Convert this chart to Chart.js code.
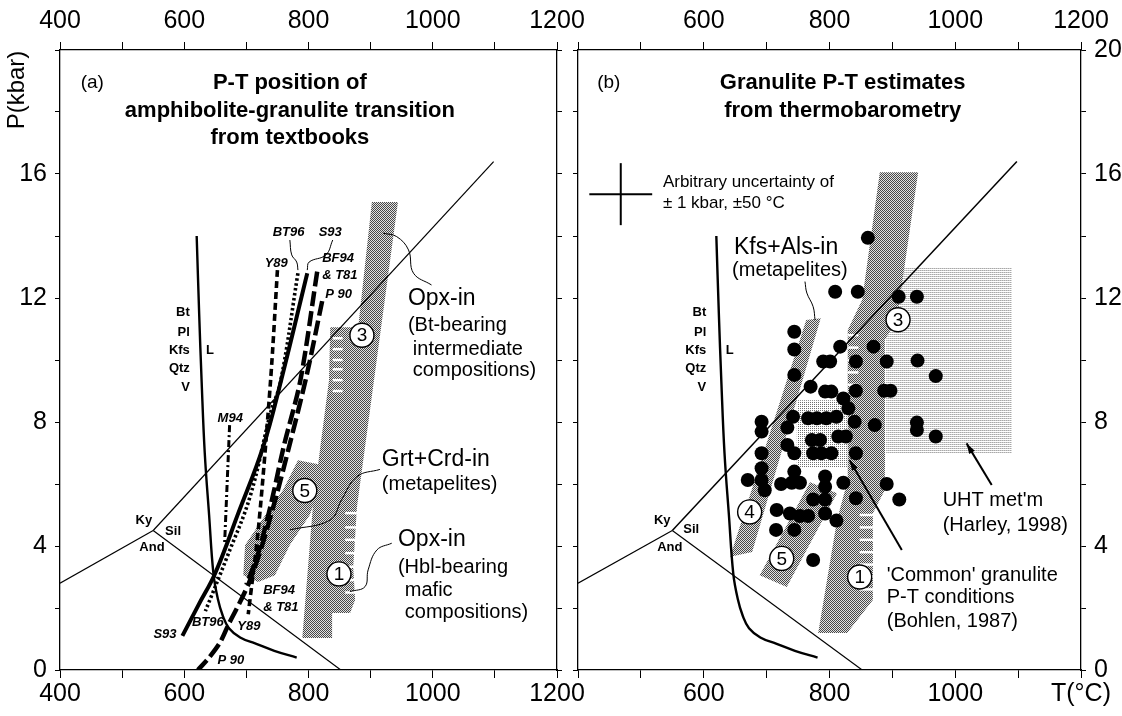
<!DOCTYPE html>
<html>
<head>
<meta charset="utf-8">
<script src="https://cdn.jsdelivr.net/npm/chart.js@4.4.1/dist/chart.umd.min.js"></script>
<style>
  html, body { margin: 0; padding: 0; background: #fff; }
  #wrap { position: relative; width: 1122px; height: 716px; }
  #wrap canvas { position: absolute; left: 0; top: 0; }
</style>
</head>
<body>
<div id="wrap">
  <canvas id="chart-a" width="1122" height="716"></canvas>
  <canvas id="chart-b" width="1122" height="716"></canvas>
</div>
<script>
/* ── Data (T in °C, P in kbar) ───────────────────────────── */

const xTicks = [400, 600, 800, 1000, 1200];
const yTicks = [0, 4, 8, 12, 16, 20];

// aluminosilicate triple point lines
const kyAndT = [400, 550];
const kyAndP = [2.8, 4.5];
const kySilT = [550, 1098];
const kySilP = [4.5, 16.4];
const andSilT = [550, 852];
const andSilP = [4.5, 0];

// granite solidus (Bt Pl Kfs Qtz V = L)
const solidusT = [620, 624, 628, 633, 640, 647, 654, 662, 672, 690, 715, 745, 781];
const solidusP = [14, 11.5, 9.3, 7, 5, 3.1, 2.3, 1.75, 1.35, 1.05, 0.85, 0.62, 0.4];

// textbook transition curves (panel a)
const y89T = [750, 739, 720, 703];
const y89P = [12.9, 9.35, 4.7, 1.8];
const bt96T = [783, 755, 739, 706, 669, 634];
const bt96P = [12.8, 9.3, 8.3, 5.6, 3.65, 1.9];
const s93T = [798, 756, 727, 687, 650, 623, 597];
const s93P = [12.8, 9.35, 7.2, 5.06, 3.13, 2.1, 1.1];
const bf94T = [814, 787, 760, 739, 718, 700];
const bf94P = [12.85, 9.35, 7.2, 5.3, 3.7, 2.75];
const p90T = [822, 797, 770, 748, 725, 706, 690, 672, 658, 640, 622];
const p90P = [11.9, 9.5, 7.3, 5.6, 4.0, 2.9, 2.2, 1.5, 0.9, 0.4, 0];
const m94T = [673, 669, 665];
const m94P = [7.9, 6.0, 4.1];

// shaded fields, panel a
const bandA13T = [902, 944, 899, 878, 872, 875, 867, 838, 838, 790, 807, 819, 833, 835, 880];
const bandA13P = [15.1, 15.1, 8.39, 5.26, 3.32, 2.26, 1.84, 1.84, 1.03, 1.03, 5.26, 7.19, 9.35, 11.06, 11.06];
const bandA5T = [783, 831, 802, 770, 746, 719, 695, 698, 725, 759];
const bandA5P = [6.77, 6.58, 5.0, 4.03, 3.06, 2.84, 3.06, 4.03, 4.84, 5.81];
const stripeAP = [10.7, 10.35, 10.0, 9.7, 9.35, 9.0, 5.06, 4.6, 4.2, 3.77, 3.33, 2.9, 2.5];
const stripeAT0 = [839, 839, 839, 839, 839, 839, 859, 859, 859, 859, 859, 859, 859];
const stripeAT1 = [855, 855, 855, 855, 855, 855, 878, 878, 878, 878, 878, 878, 878];

// shaded fields, panel b
const bandB13T = [880, 941, 907, 888, 888, 869, 869, 828, 782, 812, 829, 829, 852];
const bandB13P = [16.06, 16.06, 11.29, 10.65, 5.81, 5.06, 2.26, 1.19, 1.19, 4.84, 6.13, 10.97, 11.94];
const bandB4T = [642, 677, 786, 763];
const bandB4P = [3.65, 3.81, 11.35, 11.29];
const bandB5T = [689, 732, 812, 769];
const bandB5P = [3.06, 2.68, 5.7, 6.06];
const commonT = [748, 888, 888, 748];
const commonP = [6.55, 6.55, 8.7, 8.7];
const uhtT = [890, 1090, 1090, 890];
const uhtP = [7, 7, 13, 13];
const stripeBP = [10.8, 10.4, 10.0, 9.6, 9.2, 5.0, 4.6, 4.2, 3.8, 3.4, 3.0, 2.6];
const stripeBT0 = [829, 829, 829, 829, 829, 848, 848, 848, 848, 848, 848, 848];
const stripeBT1 = [846, 846, 846, 846, 846, 872, 872, 872, 872, 872, 872, 872];

// granulite thermobarometry estimates (panel b)
const dotsT = [
  809, 845, 910, 939, 861,
  744, 744, 817, 870,
  790, 801, 842, 891, 940,
  744, 969, 770, 793, 803, 842, 887, 897,
  822, 830,
  692, 742, 766, 780, 795, 811, 840, 872, 939, 939, 969,
  692, 733, 772, 785, 814, 826,
  733, 744, 774, 787, 803, 842, 692,
  692, 692, 670, 744, 793, 793, 822, 891,
  723, 740, 753,
  774, 793, 842, 911,
  716, 737, 753, 766, 793, 811,
  715, 744, 774, 697
];
const dotsP = [
  12.2, 12.2, 12.04, 12.04, 13.94,
  10.91, 10.34, 10.43, 10.43,
  9.95, 9.95, 9.95, 9.95, 9.98,
  9.52, 9.48, 9.14, 8.98, 8.98, 9.01, 9.01, 9.01,
  8.76, 8.44,
  8.01, 8.17, 8.12, 8.12, 8.12, 8.17, 8.01, 7.9, 7.98, 7.74, 7.53,
  7.69, 7.82, 7.42, 7.42, 7.53, 7.53,
  7.26, 6.99, 6.99, 6.99, 6.99, 6.99, 6.99,
  6.51, 6.13, 6.13, 6.4, 6.24, 5.91, 6.04, 6.0,
  6.0, 6.04, 6.04,
  5.5, 5.5, 5.54, 5.5,
  5.16, 5.05, 4.97, 4.97, 5.05, 4.82,
  4.52, 4.52, 3.55, 5.8
];

// circled field numbers
const circAT = [886, 794, 849];
const circAP = [10.8, 5.79, 3.1];
const circALabels = ['3', '5', '1'];
const circBT = [909, 673, 724, 848];
const circBP = [11.3, 5.1, 3.6, 3.0];
const circBLabels = ['3', '4', '5', '1'];

// leader lines and arrows
const leadBt96T = [770, 773, 781, 783];
const leadBt96P = [13.87, 13.39, 13.16, 12.9];
const leadS93T = [839, 828, 801, 798];
const leadS93P = [13.87, 13.39, 13.16, 12.9];
const leadOpxBtT = [920, 942, 961, 969, 998];
const leadOpxBtP = [14.09, 13.98, 13.55, 12.8, 12.42];
const leadGrtT = [915, 878, 853, 835, 770];
const leadGrtP = [6.47, 6.24, 5.48, 4.84, 4.52];
const leadOpxHblT = [934, 910, 896, 891, 867];
const leadOpxHblP = [4.09, 3.87, 3.23, 2.69, 2.53];
const leadKfsT = [761, 764, 774, 777];
const leadKfsP = [12.53, 12.16, 11.72, 11.29];
const arrowCommonT = [915, 832];
const arrowCommonP = [3.87, 6.77];
const arrowUhtT = [1058, 1018];
const arrowUhtP = [5.97, 7.31];

// error cross: ±50 °C, ±1 kbar
const crossT = 468;
const crossP = 15.35;

/* ── Helpers ─────────────────────────────────────────────── */

const FONT = "'Liberation Sans', Arial, Helvetica, sans-serif";

const pts = (T, P) => T.map((t, i) => ({ x: t, y: P[i] }));

function curve(T, P, style) {
  return Object.assign({
    data: pts(T, P),
    showLine: true,
    pointRadius: 0,
    borderColor: '#000',
    borderWidth: 1.2,
    tension: 0,
    fill: false,
    order: 5,
  }, style);
}

function circles(T, P) {
  return {
    data: pts(T, P),
    showLine: false,
    pointRadius: 12,
    pointBackgroundColor: '#fff',
    pointBorderColor: '#000',
    pointBorderWidth: 1.4,
    order: 0,
  };
}

function patterns(ctx) {
  const make = (w, h, paint) => {
    const c = document.createElement('canvas');
    c.width = w; c.height = h;
    paint(c.getContext('2d'));
    return ctx.createPattern(c, 'repeat');
  };
  return {
    band: make(2, 2, (g) => {
      g.fillStyle = '#e2e2e2'; g.fillRect(0, 0, 2, 2);
      g.fillStyle = '#484848'; g.fillRect(0, 0, 1, 1); g.fillRect(1, 1, 1, 1);
    }),
    light: make(2, 2, (g) => {
      g.fillStyle = '#fff'; g.fillRect(0, 0, 2, 2);
      g.fillStyle = '#707070'; g.fillRect(0, 0, 1, 1);
    }),
    lines: make(2, 2, (g) => {
      g.fillStyle = '#fff'; g.fillRect(0, 0, 2, 2);
      g.fillStyle = '#a8a8a8'; g.fillRect(0, 0, 1, 1);
      g.fillStyle = '#cfcfcf'; g.fillRect(1, 0, 1, 1);
    }),
  };
}

// overlay plugin: shaded fields below datasets, text / arrowheads above
function overlay(spec) {
  return {
    id: 'overlay-' + spec.name,
    beforeDatasetsDraw(chart) {
      const { ctx, chartArea: a, scales: { x, y } } = chart;
      const pat = patterns(ctx);
      ctx.save();
      ctx.beginPath();
      ctx.rect(a.left, a.top, a.right - a.left, a.bottom - a.top);
      ctx.clip();
      spec.fields.forEach((f) => {
        ctx.beginPath();
        f.T.forEach((t, i) => {
          const px = x.getPixelForValue(t), py = y.getPixelForValue(f.P[i]);
          if (i) ctx.lineTo(px, py); else ctx.moveTo(px, py);
        });
        ctx.closePath();
        ctx.fillStyle = pat[f.fill];
        ctx.fill();
      });
      ctx.strokeStyle = '#fff';
      ctx.lineWidth = 2.5;
      spec.stripes.P.forEach((p, i) => {
        const py = y.getPixelForValue(p);
        ctx.beginPath();
        ctx.moveTo(x.getPixelForValue(spec.stripes.T0[i]), py);
        ctx.lineTo(x.getPixelForValue(spec.stripes.T1[i]), py);
        ctx.stroke();
      });
      ctx.restore();
    },
    afterDatasetsDraw(chart) {
      const { ctx, scales: { x, y } } = chart;
      ctx.save();
      ctx.fillStyle = '#000';
      ctx.textBaseline = 'middle';
      spec.texts.forEach((t) => {
        ctx.font = t.font + ' ' + FONT;
        ctx.textAlign = t.align || 'left';
        ctx.fillText(t.s, x.getPixelForValue(t.T), y.getPixelForValue(t.P));
      });
      ctx.font = '19px ' + FONT;
      ctx.textAlign = 'center';
      spec.circ.labels.forEach((s, i) => {
        ctx.fillText(s, x.getPixelForValue(spec.circ.T[i]), y.getPixelForValue(spec.circ.P[i]) + 1);
      });
      spec.arrows.forEach((ar) => {
        const n = ar.T.length;
        const x1 = x.getPixelForValue(ar.T[n - 1]), y1 = y.getPixelForValue(ar.P[n - 1]);
        const x0 = x.getPixelForValue(ar.T[n - 2]), y0 = y.getPixelForValue(ar.P[n - 2]);
        const ang = Math.atan2(y1 - y0, x1 - x0);
        ctx.beginPath();
        ctx.moveTo(x1, y1);
        ctx.lineTo(x1 - 11 * Math.cos(ang - 0.3), y1 - 11 * Math.sin(ang - 0.3));
        ctx.lineTo(x1 - 11 * Math.cos(ang + 0.3), y1 - 11 * Math.sin(ang + 0.3));
        ctx.closePath();
        ctx.fill();
      });
      if (spec.yTitle) {
        ctx.font = '24px ' + FONT;
        ctx.textAlign = 'center';
        ctx.translate(17, 90);
        ctx.rotate(-Math.PI / 2);
        ctx.fillText(spec.yTitle, 0, 0);
      }
      ctx.restore();
    },
  };
}

function axis(position, fit, labelFn, extra) {
  const horizontal = position === 'top' || position === 'bottom';
  return Object.assign({
    type: 'linear',
    position,
    min: horizontal ? 400 : 0,
    max: horizontal ? 1200 : 20,
    afterFit: (s) => { if (horizontal) s.height = fit; else s.width = fit; },
    border: { color: '#000', width: 1.3 },
    grid: { drawOnChartArea: false, color: '#000', tickLength: horizontal ? 8 : 5 },
    ticks: {
      stepSize: horizontal ? 100 : 2,
      autoSkip: false,
      maxRotation: 0,
      color: '#000',
      font: { family: FONT, size: 25 },
      padding: horizontal ? (position === 'top' ? 6 : 1) : 8,
      callback: labelFn,
    },
  }, extra);
}

const xLabel = (skip400, last) => (v) => {
  if (!xTicks.includes(v)) return '';
  if (skip400 && v === 400) return '';
  if (v === 1200 && last) return last;
  return String(v);
};
const yLabel = (skip20) => (v) => (yTicks.includes(v) && !(skip20 && v === 20) ? String(v) : '');
const noLabel = () => '';

const baseOptions = (scales) => ({
  responsive: false,
  animation: false,
  events: [],
  layout: { padding: 0 },
  plugins: { legend: { display: false }, tooltip: { enabled: false } },
  scales,
});

/* ── Panel (a): textbook positions ───────────────────────── */

const specA = {
  name: 'a',
  fields: [
    { T: bandA13T, P: bandA13P, fill: 'band' },
    { T: bandA5T, P: bandA5P, fill: 'band' },
  ],
  stripes: { P: stripeAP, T0: stripeAT0, T1: stripeAT1 },
  circ: { T: circAT, P: circAP, labels: circALabels },
  arrows: [],
  yTitle: 'P(kbar)',
  texts: [
    { s: '(a)', T: 452, P: 18.95, font: '19px', align: 'center' },
    { s: 'P-T position of', T: 770, P: 18.95, font: 'bold 22px', align: 'center' },
    { s: 'amphibolite-granulite transition', T: 770, P: 18.05, font: 'bold 22px', align: 'center' },
    { s: 'from textbooks', T: 770, P: 17.15, font: 'bold 22px', align: 'center' },
    { s: 'Bt', T: 609, P: 11.52, font: 'bold 13px', align: 'right' },
    { s: 'Pl', T: 609, P: 10.9, font: 'bold 13px', align: 'right' },
    { s: 'Kfs', T: 609, P: 10.32, font: 'bold 13px', align: 'right' },
    { s: 'Qtz', T: 609, P: 9.74, font: 'bold 13px', align: 'right' },
    { s: 'V', T: 609, P: 9.1, font: 'bold 13px', align: 'right' },
    { s: 'L', T: 635, P: 10.32, font: 'bold 13px' },
    { s: 'Ky', T: 535, P: 4.84, font: 'bold 13px', align: 'center' },
    { s: 'Sil', T: 582, P: 4.48, font: 'bold 13px', align: 'center' },
    { s: 'And', T: 548, P: 3.94, font: 'bold 13px', align: 'center' },
    { s: 'BT96', T: 768, P: 14.13, font: 'italic bold 13px', align: 'center' },
    { s: 'S93', T: 835, P: 14.13, font: 'italic bold 13px', align: 'center' },
    { s: 'Y89', T: 748, P: 13.13, font: 'italic bold 13px', align: 'center' },
    { s: 'BF94', T: 822, P: 13.29, font: 'italic bold 13px' },
    { s: '& T81', T: 822, P: 12.74, font: 'italic bold 13px' },
    { s: 'P 90', T: 827, P: 12.13, font: 'italic bold 13px' },
    { s: 'M94', T: 674, P: 8.13, font: 'italic bold 13px', align: 'center' },
    { s: 'S93', T: 569, P: 1.16, font: 'italic bold 13px', align: 'center' },
    { s: 'BT96', T: 638, P: 1.52, font: 'italic bold 13px', align: 'center' },
    { s: 'Y89', T: 704, P: 1.42, font: 'italic bold 13px', align: 'center' },
    { s: 'BF94', T: 727, P: 2.58, font: 'italic bold 13px' },
    { s: '& T81', T: 727, P: 2.03, font: 'italic bold 13px' },
    { s: 'P 90', T: 675, P: 0.32, font: 'italic bold 13px', align: 'center' },
    { s: 'Opx-in', T: 960, P: 11.97, font: '23px' },
    { s: '(Bt-bearing', T: 960, P: 11.1, font: '20px' },
    { s: 'intermediate', T: 968, P: 10.35, font: '20px' },
    { s: 'compositions)', T: 968, P: 9.65, font: '20px' },
    { s: 'Grt+Crd-in', T: 918, P: 6.77, font: '23px' },
    { s: '(metapelites)', T: 918, P: 5.97, font: '20px' },
    { s: 'Opx-in', T: 944, P: 4.19, font: '23px' },
    { s: '(Hbl-bearing', T: 944, P: 3.32, font: '20px' },
    { s: 'mafic', T: 955, P: 2.58, font: '20px' },
    { s: 'compositions)', T: 955, P: 1.87, font: '20px' },
  ],
};

new Chart(document.getElementById('chart-a'), {
  type: 'scatter',
  data: {
    datasets: [
      curve(kyAndT, kyAndP),
      curve(kySilT, kySilP),
      curve(andSilT, andSilP),
      curve(solidusT, solidusP, { borderWidth: 2.4, tension: 0.4 }),
      curve(y89T, y89P, { borderWidth: 3.6, borderDash: [7, 4], tension: 0.3, order: 4 }),
      curve(bt96T, bt96P, { borderWidth: 3.6, borderDash: [2.5, 2.5], tension: 0.4, order: 4 }),
      curve(s93T, s93P, { borderWidth: 4, tension: 0.4, order: 4 }),
      curve(bf94T, bf94P, { borderWidth: 4.5, borderDash: [15, 5], tension: 0.3, order: 4 }),
      curve(p90T, p90P, { borderWidth: 4.5, borderDash: [15, 5], tension: 0.3, order: 4 }),
      curve(m94T, m94P, { borderWidth: 3, borderDash: [7, 3, 2, 3], order: 4 }),
      curve(leadBt96T, leadBt96P, { borderWidth: 1, tension: 0.4 }),
      curve(leadS93T, leadS93P, { borderWidth: 1, tension: 0.4 }),
      curve(leadOpxBtT, leadOpxBtP, { borderWidth: 1, tension: 0.4 }),
      curve(leadGrtT, leadGrtP, { borderWidth: 1, tension: 0.4 }),
      curve(leadOpxHblT, leadOpxHblP, { borderWidth: 1, tension: 0.4 }),
      circles(circAT, circAP),
    ],
  },
  options: baseOptions({
    x: axis('bottom', 46, xLabel(false)),
    x2: axis('top', 50, xLabel(false)),
    y: axis('left', 60, yLabel(true)),
    y2: axis('right', 565, noLabel),
  }),
  plugins: [overlay(specA)],
});

/* ── Panel (b): thermobarometry ──────────────────────────── */

const specB = {
  name: 'b',
  fields: [
    { T: uhtT, P: uhtP, fill: 'lines' },
    { T: commonT, P: commonP, fill: 'light' },
    { T: bandB13T, P: bandB13P, fill: 'band' },
    { T: bandB4T, P: bandB4P, fill: 'band' },
    { T: bandB5T, P: bandB5P, fill: 'band' },
  ],
  stripes: { P: stripeBP, T0: stripeBT0, T1: stripeBT1 },
  circ: { T: circBT, P: circBP, labels: circBLabels },
  arrows: [
    { T: arrowCommonT, P: arrowCommonP },
    { T: arrowUhtT, P: arrowUhtP },
  ],
  texts: [
    { s: '(b)', T: 449, P: 18.95, font: '19px', align: 'center' },
    { s: 'Granulite P-T estimates', T: 821, P: 18.95, font: 'bold 22px', align: 'center' },
    { s: 'from thermobarometry', T: 821, P: 18.05, font: 'bold 22px', align: 'center' },
    { s: 'Arbitrary uncertainty of', T: 535, P: 15.74, font: '17px' },
    { s: '\u00b1 1 kbar, \u00b150 \u00b0C', T: 535, P: 15.06, font: '17px' },
    { s: 'Bt', T: 604, P: 11.52, font: 'bold 13px', align: 'right' },
    { s: 'Pl', T: 604, P: 10.9, font: 'bold 13px', align: 'right' },
    { s: 'Kfs', T: 604, P: 10.32, font: 'bold 13px', align: 'right' },
    { s: 'Qtz', T: 604, P: 9.74, font: 'bold 13px', align: 'right' },
    { s: 'V', T: 604, P: 9.1, font: 'bold 13px', align: 'right' },
    { s: 'L', T: 635, P: 10.32, font: 'bold 13px' },
    { s: 'Ky', T: 534, P: 4.84, font: 'bold 13px', align: 'center' },
    { s: 'Sil', T: 580, P: 4.52, font: 'bold 13px', align: 'center' },
    { s: 'And', T: 546, P: 3.94, font: 'bold 13px', align: 'center' },
    { s: 'Kfs+Als-in', T: 731, P: 13.63, font: '23px', align: 'center' },
    { s: '(metapelites)', T: 737, P: 12.9, font: '20px', align: 'center' },
    { s: "UHT met'm", T: 980, P: 5.48, font: '20px' },
    { s: '(Harley, 1998)', T: 980, P: 4.65, font: '20px' },
    { s: "'Common' granulite", T: 891, P: 3.06, font: '20px' },
    { s: 'P-T conditions', T: 891, P: 2.35, font: '20px' },
    { s: '(Bohlen, 1987)', T: 891, P: 1.58, font: '20px' },
  ],
};

new Chart(document.getElementById('chart-b'), {
  type: 'scatter',
  data: {
    datasets: [
      curve(kyAndT, kyAndP),
      curve(kySilT, kySilP, { borderWidth: 1.5 }),
      curve(andSilT, andSilP),
      curve(solidusT, solidusP, { borderWidth: 2.4, tension: 0.4 }),
      curve([crossT - 50, crossT + 50], [crossP, crossP], { borderWidth: 2 }),
      curve([crossT, crossT], [crossP - 1, crossP + 1], { borderWidth: 2 }),
      curve(leadKfsT, leadKfsP, { borderWidth: 1, tension: 0.4 }),
      curve(arrowCommonT, arrowCommonP, { borderWidth: 2 }),
      curve(arrowUhtT, arrowUhtP, { borderWidth: 2 }),
      {
        data: pts(dotsT, dotsP),
        showLine: false,
        pointRadius: 7,
        pointBackgroundColor: '#000',
        pointBorderWidth: 0,
        order: 1,
      },
      circles(circBT, circBP),
    ],
  },
  options: baseOptions({
    x: axis('bottom', 46, xLabel(true, 'T(\u00b0C)')),
    x2: axis('top', 50, xLabel(true)),
    y: axis('left', 578, noLabel),
    y2: axis('right', 41, yLabel(false)),
  }),
  plugins: [overlay(specB)],
});
</script>
</body>
</html>
